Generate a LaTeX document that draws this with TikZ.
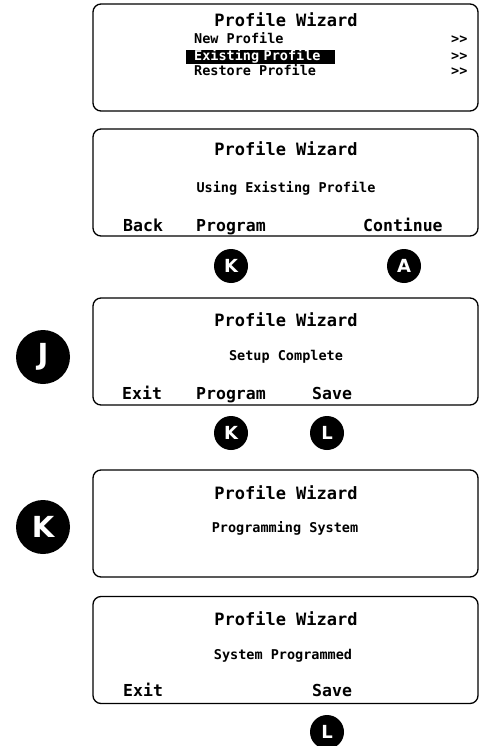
\documentclass[tikz,border=0pt]{standalone}
\usepackage{fontspec}
\setmonofont{DejaVu Sans Mono}
\setsansfont{DejaVu Sans}
\begin{document}
\begin{tikzpicture}[x=1pt, y=-1pt,
    screen/.style={draw, line width=1.3pt, rounded corners=8pt, minimum width=385pt, minimum height=107pt, inner sep=0pt},
    title/.style={anchor=base, font=\ttfamily\bfseries\fontsize{17}{17}\selectfont},
    msg/.style={anchor=base, font=\ttfamily\bfseries\fontsize{13.5}{13.5}\selectfont},
    item/.style={anchor=base west, inner sep=0pt, font=\ttfamily\bfseries\fontsize{13.5}{13.5}\selectfont},
    softkey/.style={anchor=base west, inner sep=0pt, font=\ttfamily\bfseries\fontsize{16.5}{16.5}\selectfont},
    badge/.style={circle, fill=black, text=white, minimum size=34pt, inner sep=0pt, font=\sffamily\bfseries\fontsize{18}{18}\selectfont},
    bigbadge/.style={badge, minimum size=54pt, font=\sffamily\bfseries\fontsize{29}{29}\selectfont}]
  \useasboundingbox (0,0) rectangle (482,746);

  % Screen 1: wizard menu
  \node[screen] (scr1) at (285.5, 57.5) {};
  \node[title] (t1) at (286, 27) {Profile Wizard};
  \node[item] (new) at (194, 43.5) {New Profile};
  \node[item, fill=black, text=white, inner xsep=8pt, inner ysep=1pt, text width=133pt, align=left, text height=9pt, text depth=2.5pt, xshift=-8pt] (exist) at (194, 60.5) {Existing Profile};
  \node[item] (restore) at (194, 75.5) {Restore Profile};
  \foreach \y/\n in {43.5/1, 60.5/2, 75.5/3}
    \node[item] (more\n) at (451, \y) {>>};

  % Screen 2: existing profile
  \node[screen] (scr2) at (285.5, 182.5) {};
  \node[title] (t2) at (286, 156) {Profile Wizard};
  \node[msg] (m2) at (286, 192.5) {Using Existing Profile};
  \node[softkey] (back) at (123, 231) {Back};
  \node[softkey] (prog2) at (196, 231) {Program};
  \node[softkey] (cont) at (363, 231) {Continue};

  \node[badge] (k1) at (231, 266) {K};
  \node[badge] (a1) at (404, 266) {A};

  % Screen 3: setup complete
  \node[screen] (scr3) at (285.5, 351.5) {};
  \node[title] (t3) at (286, 326) {Profile Wizard};
  \node[msg] (m3) at (286, 360.5) {Setup Complete};
  \node[softkey] (exit3) at (122, 399) {Exit};
  \node[softkey] (prog3) at (196, 399) {Program};
  \node[softkey] (save3) at (312, 399) {Save};
  \node[bigbadge] (j) at (43, 357) {J};

  \node[badge] (k2) at (231, 433) {K};
  \node[badge] (l1) at (327, 433) {L};

  % Screen 4: programming
  \node[screen] (scr4) at (285.5, 523.5) {};
  \node[title] (t4) at (286, 499) {Profile Wizard};
  \node[msg] (m4) at (285, 532.5) {Programming System};
  \node[bigbadge] (k3) at (43, 527) {K};

  % Screen 5: programmed
  \node[screen] (scr5) at (285.5, 650) {};
  \node[title] (t5) at (286, 625) {Profile Wizard};
  \node[msg] (m5) at (283, 659.5) {System Programmed};
  \node[softkey] (exit5) at (123, 696) {Exit};
  \node[softkey] (save5) at (312, 696) {Save};

  \node[badge] (l2) at (327, 732) {L};
\end{tikzpicture}
\end{document}
